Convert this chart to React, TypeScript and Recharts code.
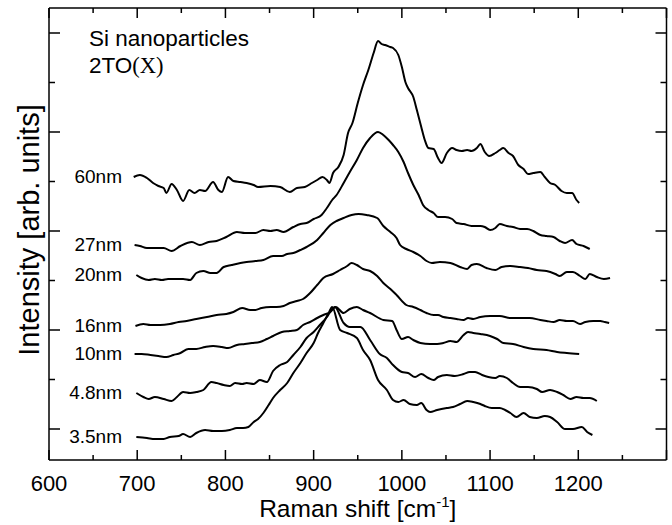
import React from 'react';
import { LineChart, Line, XAxis, YAxis } from 'recharts';

// ---- data (Raman shift [cm^-1], intensity [arb. units, offset stacked]) ----
const X_TICKS = [600, 650, 700, 750, 800, 850, 900, 950, 1000, 1050, 1100, 1150, 1200, 1250, 1300];
const X_LABELED = [600, 700, 800, 900, 1000, 1100, 1200];
const Y_TICKS = [31, 80.5, 130, 179.5, 229, 278.5, 328, 377.5, 427];
const Y_MAJOR = [31, 130, 229, 328, 427];
const SIZES = ['60nm', '27nm', '20nm', '16nm', '10nm', '4.8nm', '3.5nm'];

const S60: [number, number][] = [
  [696, 283], [703, 285], [711, 282], [718, 277], [724, 274], [730, 272], [733, 267], [739, 276], [745, 270],
  [752, 259], [759, 270], [765, 267], [771, 270], [777, 269], [786, 278], [792, 270], [796, 268], [803, 283],
  [809, 279], [817, 278], [824, 277], [832, 275], [837, 273], [851, 274], [862, 273], [873, 268], [881, 272],
  [890, 273], [898, 277], [904, 280], [910, 283], [915, 280], [918, 277], [922, 287], [928, 293], [934, 305],
  [939, 327], [944, 337], [950, 357], [956, 375], [962, 390], [968, 407], [973, 419], [977, 416], [981, 415],
  [987, 413], [990, 412], [996, 405], [1000, 393], [1004, 378], [1007, 372], [1013, 363], [1017, 350], [1022, 333],
  [1026, 320], [1030, 312], [1036, 311], [1041, 302], [1045, 297], [1051, 307], [1057, 312], [1062, 310], [1068, 309],
  [1074, 310], [1079, 309], [1085, 312], [1089, 316], [1094, 308], [1099, 304], [1106, 307], [1111, 310], [1115, 312],
  [1121, 307], [1126, 304], [1132, 295], [1138, 291], [1143, 286], [1149, 287], [1157, 288], [1162, 283], [1168, 277],
  [1174, 275], [1181, 269], [1187, 267], [1193, 267], [1198, 260], [1201, 257],
];

const S27: [number, number][] = [
  [697, 215], [703, 214], [711, 212], [720, 212], [730, 212], [739, 209], [749, 214], [762, 218], [771, 215],
  [781, 218], [790, 219], [801, 223], [813, 228], [822, 227], [834, 227], [843, 230], [851, 229], [858, 230],
  [866, 228], [877, 233], [885, 236], [892, 237], [900, 241], [909, 245], [915, 252], [921, 260], [926, 265],
  [934, 277], [941, 288], [949, 300], [956, 312], [964, 322], [973, 328], [979, 325], [985, 320], [990, 315],
  [996, 308], [1002, 298], [1007, 287], [1013, 275], [1019, 265], [1024, 255], [1030, 250], [1036, 247], [1041, 243],
  [1049, 243], [1057, 241], [1062, 237], [1070, 236], [1079, 234], [1089, 234], [1094, 233], [1100, 230], [1106, 232],
  [1111, 236], [1119, 234], [1126, 233], [1134, 231], [1142, 231], [1149, 229], [1157, 225], [1164, 224], [1172, 223],
  [1179, 219], [1185, 217], [1193, 220], [1198, 216], [1206, 214], [1213, 211],
];

const S20: [number, number][] = [
  [699, 185], [705, 182], [713, 180], [720, 181], [728, 180], [735, 181], [743, 181], [752, 181], [760, 180],
  [767, 187], [775, 189], [783, 187], [790, 187], [798, 193], [807, 195], [817, 197], [824, 198], [834, 199],
  [843, 200], [854, 204], [864, 204], [870, 206], [877, 207], [885, 210], [892, 213], [904, 220], [911, 227],
  [919, 235], [926, 239], [934, 242], [943, 245], [951, 246], [960, 245], [972, 242], [979, 234], [987, 228],
  [994, 222], [998, 215], [1005, 211], [1013, 208], [1021, 204], [1028, 199], [1034, 197], [1043, 198], [1055, 197],
  [1066, 193], [1074, 191], [1079, 195], [1085, 196], [1096, 192], [1106, 190], [1113, 193], [1123, 194], [1134, 193],
  [1143, 192], [1153, 190], [1164, 189], [1174, 186], [1179, 184], [1187, 188], [1194, 188], [1202, 184], [1208, 181],
  [1213, 186], [1221, 183], [1229, 181], [1236, 182],
];

const S16: [number, number][] = [
  [698, 134], [707, 136], [715, 135], [726, 135], [737, 136], [747, 138], [756, 139], [767, 141], [779, 143],
  [790, 145], [801, 146], [809, 148], [819, 152], [828, 150], [834, 150], [841, 152], [851, 153], [858, 153],
  [866, 154], [873, 157], [881, 159], [888, 161], [896, 167], [904, 175], [911, 182], [922, 186], [930, 190],
  [938, 194], [943, 197], [949, 195], [956, 191], [964, 189], [972, 184], [979, 177], [987, 171], [994, 165],
  [1005, 155], [1013, 153], [1021, 150], [1028, 147], [1036, 145], [1041, 145], [1047, 143], [1055, 142], [1062, 141],
  [1070, 140], [1075, 142], [1081, 141], [1089, 143], [1100, 144], [1111, 144], [1123, 142], [1134, 142], [1145, 142],
  [1157, 140], [1164, 139], [1172, 138], [1179, 140], [1187, 139], [1194, 139], [1202, 136], [1208, 138], [1217, 139],
  [1225, 139], [1230, 138], [1235, 137],
];

const S10: [number, number][] = [
  [697, 106], [705, 106], [715, 105], [724, 104], [733, 103], [741, 105], [749, 107], [758, 111], [767, 111],
  [777, 113], [786, 114], [796, 113], [803, 112], [813, 115], [822, 116], [830, 117], [839, 118], [847, 121],
  [854, 124], [864, 128], [873, 129], [881, 130], [888, 135], [896, 138], [904, 142], [911, 145], [919, 148],
  [925, 153], [934, 147], [941, 151], [949, 153], [956, 150], [964, 147], [979, 140], [989, 139], [994, 130],
  [1000, 121], [1007, 123], [1013, 120], [1021, 117], [1032, 116], [1040, 116], [1047, 117], [1055, 119], [1062, 118],
  [1070, 125], [1075, 128], [1081, 127], [1089, 126], [1100, 124], [1108, 121], [1115, 117], [1126, 116], [1138, 113],
  [1149, 111], [1164, 110], [1176, 108], [1187, 107], [1201, 106],
];

const S48: [number, number][] = [
  [699, 67], [707, 63], [713, 61], [720, 63], [730, 61], [739, 59], [745, 63], [752, 68], [760, 67],
  [767, 68], [775, 70], [784, 78], [790, 77], [798, 75], [805, 74], [811, 77], [819, 76], [824, 77],
  [832, 76], [839, 80], [847, 78], [854, 89], [862, 95], [870, 98], [877, 105], [885, 113], [892, 122],
  [900, 128], [907, 135], [915, 143], [920, 150], [924, 153], [934, 137], [941, 133], [953, 133], [964, 120],
  [975, 106], [983, 102], [990, 95], [1000, 88], [1007, 87], [1015, 83], [1022, 86], [1030, 82], [1036, 80],
  [1041, 83], [1051, 85], [1060, 84], [1070, 86], [1077, 88], [1083, 88], [1091, 85], [1098, 83], [1106, 82],
  [1111, 84], [1119, 82], [1126, 77], [1134, 73], [1143, 73], [1153, 71], [1159, 68], [1168, 70], [1176, 68],
  [1183, 65], [1191, 61], [1198, 63], [1206, 62], [1213, 62], [1221, 59],
];

const S35: [number, number][] = [
  [699, 23], [711, 22], [720, 21], [730, 21], [737, 23], [747, 24], [752, 26], [760, 23], [767, 27],
  [777, 30], [786, 29], [796, 29], [805, 30], [813, 32], [820, 32], [826, 33], [832, 38], [837, 41],
  [843, 47], [849, 55], [854, 62], [862, 70], [870, 77], [877, 87], [885, 97], [892, 107], [900, 117],
  [905, 127], [911, 137], [917, 147], [921, 153], [930, 130], [938, 127], [949, 122], [956, 110], [964, 100],
  [973, 80], [983, 70], [990, 60], [996, 58], [1002, 60], [1009, 56], [1017, 55], [1022, 57], [1028, 50],
  [1032, 48], [1040, 50], [1051, 52], [1058, 53], [1066, 56], [1074, 59], [1081, 58], [1089, 56], [1094, 54],
  [1102, 52], [1111, 52], [1117, 50], [1123, 47], [1130, 43], [1138, 47], [1145, 43], [1153, 42], [1162, 44],
  [1168, 43], [1176, 38], [1185, 31], [1194, 31], [1204, 33], [1210, 28], [1216, 25],
];

const SERIES = [S60, S27, S20, S16, S10, S48, S35];

// ---- layout / style ----
const W = 672;
const H = 525;
const LEFT = 49;
const RIGHT = 666.5;
const TOP = 8;
const BOTTOM = 460;
const FONT = "Arial, 'Liberation Sans', Helvetica, sans-serif";
const LABEL_X = 122;

const toPts = (arr: [number, number][]) => arr.map(([x, y]) => ({ x, y }));

const BottomTick = (props: any) => {
  const { x, payload } = props;
  const v = payload.value;
  const major = v % 100 === 0;
  return (
    <g>
      <line x1={x} x2={x} y1={BOTTOM} y2={BOTTOM - (major ? 10 : 5)} stroke="#000" strokeWidth={1.5} />
      {major && X_LABELED.includes(v) && (
        <text x={x} y={491} textAnchor="middle" fontSize={22} fontFamily={FONT} fill="#000">
          {v}
        </text>
      )}
    </g>
  );
};

const TopTick = (props: any) => {
  const { x, payload } = props;
  const major = payload.value % 100 === 0;
  return <line x1={x} x2={x} y1={TOP} y2={TOP + (major ? 10 : 5)} stroke="#000" strokeWidth={1.5} />;
};

const LeftTick = (props: any) => {
  const { y, payload } = props;
  const major = Y_MAJOR.includes(payload.value);
  return <line x1={LEFT} x2={LEFT + (major ? 11 : 6)} y1={y} y2={y} stroke="#000" strokeWidth={1.5} />;
};

const RightTick = (props: any) => {
  const { y, payload } = props;
  const major = Y_MAJOR.includes(payload.value);
  return <line x1={RIGHT} x2={RIGHT - (major ? 11 : 6)} y1={y} y2={y} stroke="#000" strokeWidth={1.5} />;
};

const XTitle = (props: any) => {
  const vb = props.viewBox || {};
  const cx = (vb.x ?? LEFT) + (vb.width ?? RIGHT - LEFT) / 2;
  return (
    <text x={cx} y={517} textAnchor="middle" fontSize={24.5} fontFamily={FONT} fill="#000">
      Raman shift [cm
      <tspan fontSize={15} dy={-10}>-1</tspan>
      <tspan dy={10}>]</tspan>
    </text>
  );
};

const YTitle = () => {
  const cy = (TOP + BOTTOM) / 2 - 4;
  return (
    <text
      x={39}
      y={cy}
      transform={`rotate(-90, 39, ${cy})`}
      textAnchor="middle"
      fontSize={29}
      fontFamily={FONT}
      fill="#000"
    >
      Intensity [arb. units]
    </text>
  );
};

const makeDot = (name: string) => (p: any) => {
  if (p.index === 0) {
    return (
      <text key={`lbl-${name}`} x={LABEL_X} y={p.cy + 5.5} textAnchor="end" fontSize={19} fontFamily={FONT} fill="#000">
        {name}
      </text>
    );
  }
  return <g key={`d-${name}-${p.index}`} />;
};

export default function App() {
  return (
    <div style={{ position: 'absolute', left: 0, top: 0, width: W, height: H, background: '#fff' }}>
      <LineChart width={W} height={H} margin={{ top: 0, right: 0, bottom: 0, left: 0 }}>
        <XAxis
          xAxisId="b"
          dataKey="x"
          type="number"
          domain={[600, 1300]}
          ticks={X_TICKS}
          interval={0}
          height={H - BOTTOM}
          tickSize={0}
          tickMargin={0}
          tickLine={false}
          axisLine={{ stroke: '#000', strokeWidth: 1.5 }}
          tick={<BottomTick />}
          allowDataOverflow
          label={(p: any) => <XTitle {...p} />}
        />
        <XAxis
          xAxisId="t"
          orientation="top"
          dataKey="x"
          type="number"
          domain={[600, 1300]}
          ticks={X_TICKS}
          interval={0}
          height={TOP}
          tickSize={0}
          tickMargin={0}
          tickLine={false}
          axisLine={{ stroke: '#000', strokeWidth: 1.5 }}
          tick={<TopTick />}
          allowDataOverflow
        />
        <YAxis
          yAxisId="l"
          type="number"
          domain={[0, BOTTOM - TOP]}
          ticks={Y_TICKS}
          interval={0}
          width={LEFT}
          tickSize={0}
          tickMargin={0}
          tickLine={false}
          axisLine={{ stroke: '#000', strokeWidth: 1.5 }}
          tick={<LeftTick />}
          allowDataOverflow
          label={() => <YTitle />}
        />
        <YAxis
          yAxisId="r"
          orientation="right"
          type="number"
          domain={[0, BOTTOM - TOP]}
          ticks={Y_TICKS}
          interval={0}
          width={W - RIGHT}
          tickSize={0}
          tickMargin={0}
          tickLine={false}
          axisLine={{ stroke: '#000', strokeWidth: 1.5 }}
          tick={<RightTick />}
          allowDataOverflow
        />
        {SERIES.map((s, i) => (
          <Line
            key={SIZES[i]}
            data={toPts(s)}
            dataKey="y"
            xAxisId="b"
            yAxisId="l"
            type="monotone"
            stroke="#000"
            strokeWidth={2}
            dot={makeDot(SIZES[i])}
            activeDot={false}
            isAnimationActive={false}
          />
        ))}
        <text x={89} y={46} fontSize={22.5} fontFamily={FONT} fill="#000">
          Si nanoparticles
        </text>
        <text x={89} y={73} fontSize={22.5} fontFamily={FONT} fill="#000">
          2TO
          <tspan fontFamily="'Liberation Serif', 'Times New Roman', serif">(X)</tspan>
        </text>
      </LineChart>
    </div>
  );
}
